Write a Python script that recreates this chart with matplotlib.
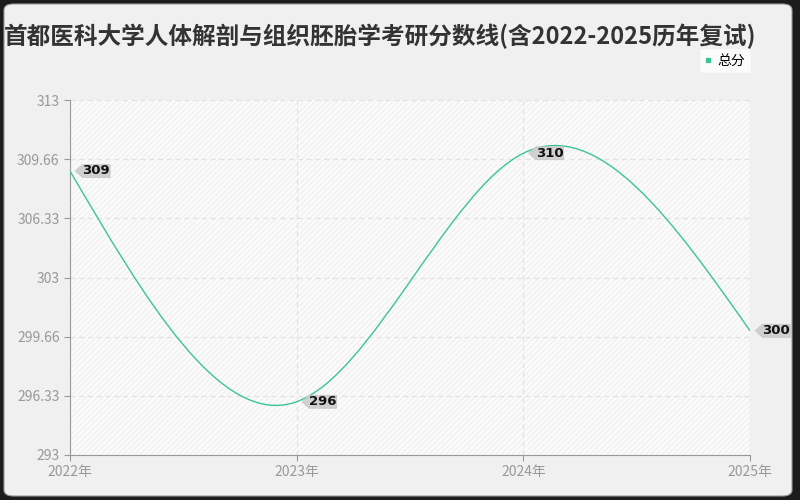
import numpy as np
import matplotlib
matplotlib.use("Agg")
import matplotlib.pyplot as plt
from matplotlib.path import Path
from matplotlib.patches import PathPatch, FancyBboxPatch, Rectangle

plt.rcParams['font.family'] = ['Noto Sans CJK SC', 'DejaVu Sans']

title = "首都医科大学人体解剖与组织胚胎学考研分数线(含2022-2025历年复试)"
years = [2022, 2023, 2024, 2025]
year_labels = ["2022年", "2023年", "2024年", "2025年"]
scores = [309, 296, 310, 300]
y_ticks = [293, 296.33, 299.66, 303, 306.33, 309.66, 313]
y_tick_labels = ["293", "296.33", "299.66", "303", "306.33", "309.66", "313"]
series_name = "总分"

line_color = "#3cc39a"
grey = "#999999"


def spline_path(xs, ys):
    # natural cubic spline through the points, written as bezier segments
    x = np.array(xs, dtype=float)
    y = np.array(ys, dtype=float)
    n = len(x)
    h = np.diff(x)
    A = np.zeros((n, n))
    r = np.zeros(n)
    A[0, 0] = A[-1, -1] = 1
    for i in range(1, n - 1):
        A[i, i - 1] = h[i - 1]
        A[i, i] = 2 * (h[i - 1] + h[i])
        A[i, i + 1] = h[i]
        r[i] = 6 * ((y[i + 1] - y[i]) / h[i] - (y[i] - y[i - 1]) / h[i - 1])
    M = np.linalg.solve(A, r)
    verts = [(x[0], y[0])]
    codes = [Path.MOVETO]
    for i in range(n - 1):
        s0 = (y[i + 1] - y[i]) / h[i] - h[i] * (2 * M[i] + M[i + 1]) / 6
        s1 = (y[i + 1] - y[i]) / h[i] + h[i] * (M[i] + 2 * M[i + 1]) / 6
        verts += [(x[i] + h[i] / 3, y[i] + s0 * h[i] / 3),
                  (x[i + 1] - h[i] / 3, y[i + 1] - s1 * h[i] / 3),
                  (x[i + 1], y[i + 1])]
        codes += [Path.CURVE4] * 3
    return Path(verts, codes)


def tag_box(x0, y0, width, height, mutation_size):
    # box with a pointed left side
    tip = height * 0.55
    verts = [(x0 - tip, y0 + height / 2), (x0, y0), (x0 + width, y0),
             (x0 + width, y0 + height), (x0, y0 + height), (x0 - tip, y0 + height / 2)]
    codes = [Path.MOVETO] + [Path.LINETO] * 4 + [Path.CLOSEPOLY]
    return Path(verts, codes)


fig = plt.figure(figsize=(8, 5), dpi=100)
fig.patch.set_facecolor("#1c1c1c")
fig.patches.append(FancyBboxPatch((0.005, 0.008), 0.985, 0.984,
                                  boxstyle="round,pad=0,rounding_size=0.012",
                                  transform=fig.transFigure, facecolor="#f0f0f0",
                                  edgecolor="#9a9a9a", linewidth=0.8, zorder=-10))

ax = fig.add_axes([0.0875, 0.09, 0.85, 0.71])
ax.set_facecolor("#fbfbfb")
ax.add_patch(Rectangle((0, 0), 1, 1, transform=ax.transAxes, facecolor="none",
                       edgecolor="#f1f1f1", hatch="//////", linewidth=0, zorder=0))

ax.add_patch(PathPatch(spline_path(years, scores), facecolor="none",
                       edgecolor=line_color, linewidth=1.0, zorder=3))
ax.plot([], [], color=line_color, marker="s", linestyle="none", markersize=3.5, label=series_name)

for x, y in zip(years, scores):
    ax.annotate(str(y), xy=(x, y), xytext=(9, 0), textcoords="offset points",
                ha="left", va="center", fontsize=9.5, fontweight="bold", color="#111111",
                family=["DejaVu Sans"],
                bbox=dict(boxstyle=tag_box, facecolor="#d0d0d0", edgecolor="#c4c4c4", linewidth=0.5),
                zorder=5, annotation_clip=False)

ax.set_xlim(years[0], years[-1])
ax.set_ylim(y_ticks[0], y_ticks[-1])
ax.set_xticks(years)
ax.set_xticklabels(year_labels)
ax.set_yticks(y_ticks)
ax.set_yticklabels(y_tick_labels)
ax.tick_params(colors=grey, labelcolor=grey, labelsize=10, length=4, width=0.8)
ax.grid(True, color="#e2e2e2", linestyle=(0, (4, 3)), linewidth=0.9)
for s in ["top", "right"]:
    ax.spines[s].set_visible(False)
for s in ["left", "bottom"]:
    ax.spines[s].set_color(grey)
ax.axvline(years[-1], color="#e4e4e4", linewidth=0.9, zorder=1)

leg = ax.legend(loc="upper right", bbox_to_anchor=(0.9385, 0.904), bbox_transform=fig.transFigure,
                fontsize=10, frameon=True, handlelength=0.5, handletextpad=0.4,
                borderpad=0.4, borderaxespad=0, fancybox=True)
leg.get_frame().set_facecolor("white")
leg.get_frame().set_edgecolor("#eeeeee")

fig.text(0.475, 0.927, title, ha="center", va="center", fontsize=17, fontweight="bold", color="#333333")

fig.savefig("out.png", dpi=100, facecolor=fig.get_facecolor())
